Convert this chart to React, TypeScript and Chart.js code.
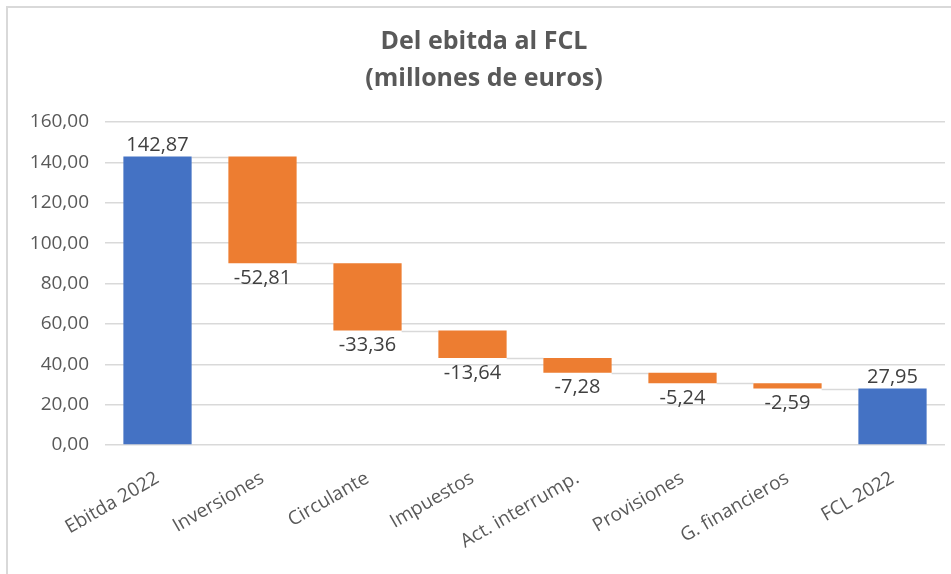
import React, { useEffect, useRef } from "react";
import { Chart, registerables } from "chart.js";

Chart.register(...registerables);

const categories = [
  "Ebitda 2022",
  "Inversiones",
  "Circulante",
  "Impuestos",
  "Act. interrump.",
  "Provisiones",
  "G. financieros",
  "FCL 2022",
];
const values = [142.87, -52.81, -33.36, -13.64, -7.28, -5.24, -2.59, 27.95];
const isTotal = [true, false, false, false, false, false, false, true];
const titleLines = ["Del ebitda al FCL", "(millones de euros)"];
const yMin = 0;
const yMax = 160;
const yStep = 20;

const BLUE = "#4472C4";
const ORANGE = "#ED7D31";
const FONT = "'Open Sans', 'Noto Sans', sans-serif";

function fmt(v: number) {
  return v.toFixed(2).replace(".", ",");
}

function buildRanges() {
  const ranges: [number, number][] = [];
  let running = 0;
  values.forEach((v, i) => {
    if (isTotal[i]) {
      ranges.push([0, v]);
      running = v;
    } else {
      ranges.push([running, running + v]);
      running = running + v;
    }
  });
  return ranges;
}

export default function App() {
  const ref = useRef<HTMLCanvasElement>(null);

  useEffect(() => {
    const ranges = buildRanges();
    const ends = ranges.map((r) => r[1]);

    const titlePlugin = {
      id: "customTitle",
      afterDraw(chart: any) {
        const ctx = chart.ctx;
        ctx.save();
        ctx.fillStyle = "#595959";
        ctx.font = `bold 25px ${FONT}`;
        ctx.textAlign = "center";
        ctx.textBaseline = "middle";
        ctx.fillText(titleLines[0], 484, 42);
        ctx.fillText(titleLines[1], 484, 79);
        ctx.restore();
      },
    };

    const connectorPlugin = {
      id: "connectors",
      beforeDatasetsDraw(chart: any) {
        const ctx = chart.ctx;
        const meta = chart.getDatasetMeta(0);
        const y = chart.scales.y;
        ctx.save();
        ctx.strokeStyle = "#D9D9D9";
        ctx.lineWidth = 1.5;
        for (let i = 0; i < meta.data.length - 1; i++) {
          const a = meta.data[i];
          const b = meta.data[i + 1];
          const py = Math.round(y.getPixelForValue(ends[i])) + 0.5;
          ctx.beginPath();
          ctx.moveTo(a.x + a.width / 2, py);
          ctx.lineTo(b.x - b.width / 2, py);
          ctx.stroke();
        }
        ctx.restore();
      },
    };

    const labelPlugin = {
      id: "valueLabels",
      afterDatasetsDraw(chart: any) {
        const ctx = chart.ctx;
        const meta = chart.getDatasetMeta(0);
        const y = chart.scales.y;
        ctx.save();
        ctx.fillStyle = "#404040";
        ctx.font = `20px ${FONT}`;
        ctx.textAlign = "center";
        meta.data.forEach((bar: any, i: number) => {
          const [s, e] = ranges[i];
          const v = values[i];
          if (isTotal[i] || v >= 0) {
            ctx.textBaseline = "bottom";
            ctx.fillText(fmt(v), bar.x, y.getPixelForValue(Math.max(s, e)) - 1);
          } else {
            ctx.textBaseline = "top";
            ctx.fillText(fmt(v), bar.x, y.getPixelForValue(Math.min(s, e)) + 5);
          }
        });
        ctx.restore();
      },
    };

    const chart = new Chart(ref.current!, {
      type: "bar",
      data: {
        labels: categories,
        datasets: [
          {
            data: ranges as any,
            backgroundColor: values.map((v, i) => (isTotal[i] ? BLUE : ORANGE)),
            borderWidth: 0,
            barPercentage: 0.65,
            categoryPercentage: 1,
            borderSkipped: false,
          },
        ],
      },
      options: {
        responsive: false,
        animation: false,
        layout: { padding: { top: 122, right: 6, left: 0, bottom: 0 } },
        plugins: {
          legend: { display: false },
          title: { display: false },
          tooltip: { enabled: false },
        },
        scales: {
          x: {
            grid: { display: false, drawTicks: false },
            border: { display: false },
            ticks: {
              color: "#595959",
              font: { family: FONT, size: 19 },
              maxRotation: 30,
              minRotation: 30,
              padding: 22,
              autoSkip: false,
            },
            afterFit(scale: any) {
              scale.height = 129;
            },
          },
          y: {
            min: yMin,
            max: yMax,
            grid: { color: "#D9D9D9", lineWidth: 1.5, drawTicks: false },
            border: { display: false },
            ticks: {
              stepSize: yStep,
              color: "#595959",
              font: { family: FONT, size: 19 },
              padding: 16,
              callback: (v: any) => fmt(Number(v)),
            },
            afterFit(scale: any) {
              scale.width = 105;
            },
          },
        },
      },
      plugins: [titlePlugin, connectorPlugin, labelPlugin],
    });
    return () => chart.destroy();
  }, []);

  return (
    <div style={{ position: "absolute", left: 0, top: 0, width: 951, height: 574, background: "#fff" }}>
      <div
        style={{
          position: "absolute",
          left: 6,
          top: 6,
          right: 0,
          bottom: 0,
          borderTop: "2px solid #D9D9D9",
          borderLeft: "2px solid #D9D9D9",
        }}
      />
      <canvas ref={ref} width={951} height={574} style={{ position: "absolute", left: 0, top: 0 }} />
    </div>
  );
}
